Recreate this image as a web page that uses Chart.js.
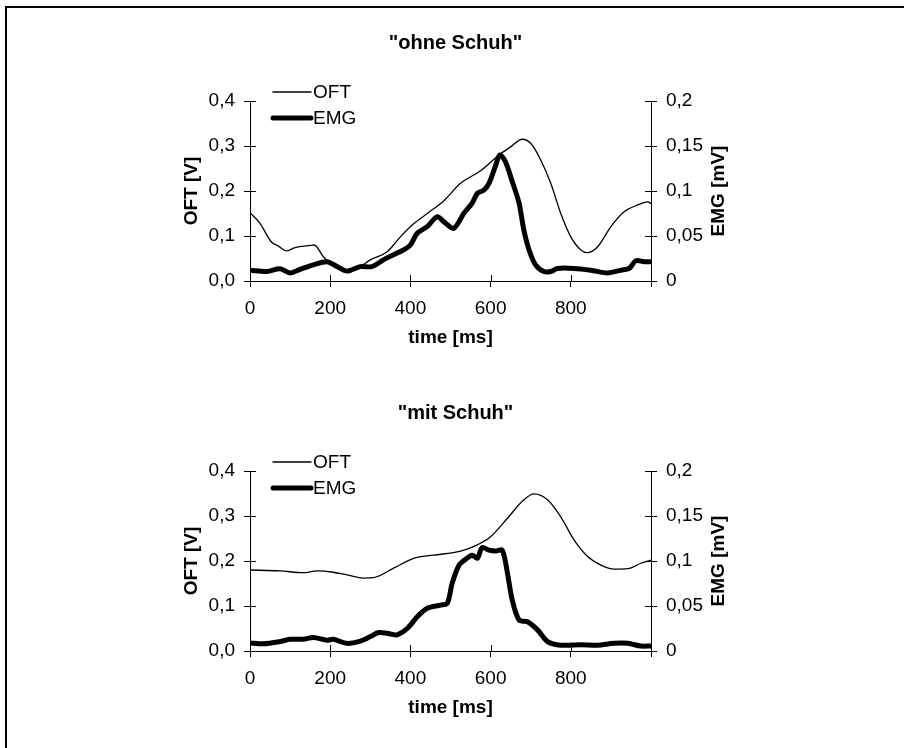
<!DOCTYPE html>
<html>
<head>
<meta charset="utf-8">
<script src="https://cdn.jsdelivr.net/npm/chart.js@4.4.1/dist/chart.umd.min.js"></script>
<style>
  html, body { margin: 0; padding: 0; background: #fff; overflow: hidden; }
  body { width: 904px; height: 748px; position: relative; }
  #frame { position: absolute; left: 5px; top: 6px; width: 2000px; height: 2000px;
           border: 2px solid #000; box-sizing: border-box; }
  canvas { position: absolute; left: 0; }
  #c1 { top: 0; }
  #c2 { top: 370px; }
</style>
</head>
<body>
<div id="frame"></div>
<canvas id="c1" width="904" height="370"></canvas>
<canvas id="c2" width="904" height="370"></canvas>
<script>
// Zeitverlauf OFT [V] und EMG [mV], oben ohne Schuh, unten mit Schuh
const titles = ['"ohne Schuh"', '"mit Schuh"'];
const seriesNames = ["OFT", "EMG"];
const xTitle = "time [ms]";
const yTitleLeft = "OFT [V]";
const yTitleRight = "EMG [mV]";

// ohne Schuh
const oftTimeTop = [0, 25, 54, 70, 92, 112, 150, 160, 183, 204, 217, 242, 275, 300, 342, 375, 408, 442, 483, 525, 575, 621, 650, 679, 700, 725, 750, 775, 800, 825, 842, 867, 900, 933, 967, 992, 1000];
const oftTop = [0.152, 0.128, 0.086, 0.078, 0.067, 0.074, 0.079, 0.080, 0.054, 0.036, 0.028, 0.021, 0.032, 0.047, 0.065, 0.098, 0.127, 0.150, 0.178, 0.217, 0.245, 0.280, 0.298, 0.315, 0.306, 0.269, 0.217, 0.150, 0.098, 0.069, 0.063, 0.076, 0.121, 0.154, 0.169, 0.176, 0.172];
const emgTimeTop = [0, 42, 75, 100, 125, 158, 192, 217, 242, 275, 304, 333, 367, 383, 400, 417, 442, 467, 483, 508, 533, 554, 567, 583, 596, 613, 623, 637, 654, 671, 683, 696, 712, 733, 750, 767, 808, 850, 892, 925, 946, 962, 983, 1000];
const emgTop = [0.012, 0.0105, 0.0135, 0.009, 0.013, 0.018, 0.0215, 0.016, 0.011, 0.016, 0.016, 0.0235, 0.031, 0.0345, 0.040, 0.053, 0.0605, 0.0715, 0.066, 0.0585, 0.075, 0.0865, 0.0975, 0.101, 0.1085, 0.129, 0.140, 0.1325, 0.1105, 0.0865, 0.0565, 0.0345, 0.018, 0.0105, 0.0105, 0.014, 0.014, 0.012, 0.009, 0.012, 0.014, 0.0225, 0.0215, 0.0215];

// mit Schuh
const oftTimeBottom = [0, 75, 133, 167, 208, 242, 283, 308, 358, 408, 458, 525, 567, 600, 642, 683, 708, 742, 775, 808, 842, 875, 908, 942, 975, 1000];
const oftBottom = [0.180, 0.178, 0.174, 0.178, 0.175, 0.169, 0.162, 0.163, 0.184, 0.206, 0.213, 0.222, 0.236, 0.254, 0.295, 0.336, 0.349, 0.336, 0.298, 0.247, 0.210, 0.191, 0.182, 0.183, 0.195, 0.202];
const emgTimeBottom = [0, 33, 75, 100, 133, 158, 192, 208, 242, 275, 300, 321, 350, 367, 392, 417, 442, 475, 492, 504, 521, 538, 554, 567, 579, 596, 613, 629, 642, 654, 671, 692, 717, 742, 775, 825, 867, 908, 942, 975, 1000];
const emgBottom = [0.009, 0.008, 0.0105, 0.013, 0.013, 0.015, 0.012, 0.013, 0.0085, 0.011, 0.016, 0.0205, 0.019, 0.018, 0.025, 0.038, 0.0475, 0.051, 0.053, 0.075, 0.095, 0.102, 0.1065, 0.103, 0.115, 0.112, 0.111, 0.112, 0.0865, 0.0565, 0.0345, 0.0325, 0.0235, 0.0105, 0.0065, 0.007, 0.0065, 0.0085, 0.0085, 0.0055, 0.0055];

const FONT = "'Liberation Sans', Arial, sans-serif";
const TICK_SIZE = 19;

Chart.defaults.font.family = FONT;
Chart.defaults.color = "#000";

const toPoints = (xs, ys) => xs.map((x, i) => ({ x: x, y: ys[i] }));

// Teilstriche, die die Achse kreuzen (innen + aussen)
const innerTicks = {
  id: "innerTicks",
  afterDraw(chart) {
    const { ctx, chartArea, scales } = chart;
    ctx.save();
    ctx.strokeStyle = "#000";
    ctx.lineWidth = 1;
    ctx.beginPath();
    scales.x.ticks.forEach(t => {
      const px = Math.round(scales.x.getPixelForValue(t.value)) + 0.5;
      ctx.moveTo(px, chartArea.bottom);
      ctx.lineTo(px, chartArea.bottom - 6);
    });
    scales.y.ticks.forEach(t => {
      const py = Math.round(scales.y.getPixelForValue(t.value)) + 0.5;
      ctx.moveTo(chartArea.left, py);
      ctx.lineTo(chartArea.left + 6, py);
    });
    scales.y2.ticks.forEach(t => {
      const py = Math.round(scales.y2.getPixelForValue(t.value)) + 0.5;
      ctx.moveTo(chartArea.right, py);
      ctx.lineTo(chartArea.right - 6, py);
    });
    ctx.stroke();
    ctx.restore();
  }
};

// Legende oben links im Diagramm, Titel der rechten Achse von unten nach oben
const extras = {
  id: "extras",
  afterDraw(chart) {
    const { ctx, chartArea } = chart;
    ctx.save();
    ctx.font = TICK_SIZE + "px " + FONT;
    ctx.fillStyle = "#000";
    ctx.textBaseline = "middle";
    const rows = [chartArea.top - 9, chartArea.top + 17];
    chart.data.datasets.forEach((ds, i) => {
      const y = rows[i];
      ctx.strokeStyle = "#000";
      ctx.lineWidth = ds.borderWidth;
      ctx.lineCap = "round";
      ctx.beginPath();
      ctx.moveTo(chartArea.left + 23, y);
      ctx.lineTo(chartArea.left + 61, y);
      ctx.stroke();
      ctx.fillText(ds.label, chartArea.left + 63, y + 1);
    });
    ctx.font = "bold " + TICK_SIZE + "px " + FONT;
    ctx.textAlign = "center";
    ctx.translate(chart.scales.y2.right - 22, (chartArea.top + chartArea.bottom) / 2);
    ctx.rotate(-Math.PI / 2);
    ctx.fillText(yTitleRight, 0, 0);
    ctx.restore();
  }
};

function makeChart(id, title, oftX, oftY, emgX, emgY) {
  return new Chart(document.getElementById(id), {
    type: "line",
    data: {
      datasets: [
        {
          label: seriesNames[0],
          data: toPoints(oftX, oftY),
          yAxisID: "y",
          borderColor: "#000",
          borderWidth: 1.3,
          pointRadius: 0,
          cubicInterpolationMode: "monotone"
        },
        {
          label: seriesNames[1],
          data: toPoints(emgX, emgY),
          yAxisID: "y2",
          borderColor: "#000",
          borderWidth: 5,
          pointRadius: 0,
          tension: 0.3,
          borderJoinStyle: "round",
          borderCapStyle: "round"
        }
      ]
    },
    options: {
      responsive: false,
      animation: false,
      layout: { padding: { left: 170, right: 163, top: 0, bottom: 19 } },
      plugins: {
        legend: { display: false },
        tooltip: { enabled: false },
        title: {
          display: true,
          text: title,
          font: { size: 20, weight: "bold" },
          padding: { top: 31, bottom: 46 }
        }
      },
      scales: {
        x: {
          type: "linear",
          min: 0,
          max: 1000,
          border: { color: "#000", width: 1 },
          grid: { drawOnChartArea: false, color: "#000", tickLength: 6 },
          ticks: {
            stepSize: 200,
            padding: 10,
            maxRotation: 0,
            font: { size: TICK_SIZE },
            callback: v => (v >= 1000 ? "" : String(v))
          },
          title: { display: true, text: xTitle, font: { size: TICK_SIZE, weight: "bold" }, padding: { top: 0, bottom: 2 } },
          afterFit: s => { s.height = 70; }
        },
        y: {
          position: "left",
          min: 0,
          max: 0.4,
          border: { color: "#000", width: 1 },
          grid: { drawOnChartArea: false, color: "#000", tickLength: 6 },
          ticks: {
            stepSize: 0.1,
            padding: 9,
            font: { size: TICK_SIZE },
            callback: v => v.toFixed(1).replace(".", ",")
          },
          title: { display: true, text: yTitleLeft, font: { size: TICK_SIZE, weight: "bold" }, padding: { top: 10, bottom: 0 } },
          afterFit: s => { s.width = 80; }
        },
        y2: {
          position: "right",
          min: 0,
          max: 0.2,
          border: { color: "#000", width: 1 },
          grid: { drawOnChartArea: false, color: "#000", tickLength: 6 },
          ticks: {
            stepSize: 0.05,
            padding: 9,
            font: { size: TICK_SIZE },
            callback: v => String(parseFloat(v.toFixed(2))).replace(".", ",")
          },
          title: { display: false },
          afterFit: s => { s.width = 90; }
        }
      }
    },
    plugins: [innerTicks, extras]
  });
}

makeChart("c1", titles[0], oftTimeTop, oftTop, emgTimeTop, emgTop);
makeChart("c2", titles[1], oftTimeBottom, oftBottom, emgTimeBottom, emgBottom);
</script>
</body>
</html>
